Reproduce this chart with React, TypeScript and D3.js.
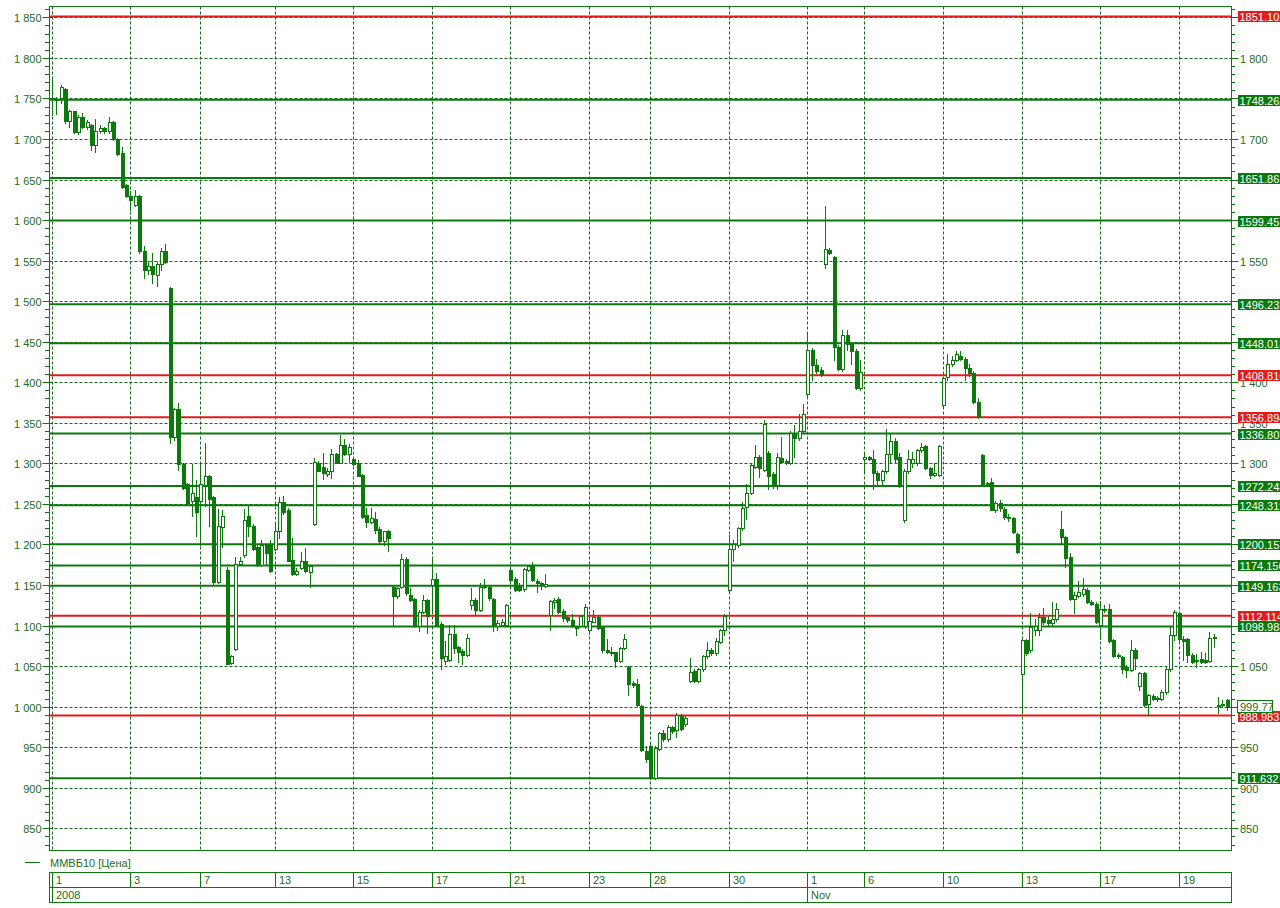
import * as d3 from 'd3';

// ohlc, one hourly candle per entry (Oct 1 - Nov 20, 2008)
const open = [
  1750, 1748, 1751, 1762, 1722, 1734, 1709, 1727, 1715, 1717,
  1693, 1710, 1714, 1710, 1721, 1700, 1683, 1643, 1630, 1618,
  1630, 1562, 1539, 1543, 1532, 1546, 1562, 1516, 1332, 1367,
  1299, 1275, 1254, 1258, 1254, 1273, 1284, 1258, 1154, 1221,
  1169, 1054, 1071, 1176, 1187, 1235, 1223, 1197, 1175, 1199,
  1199, 1195, 1216, 1252, 1243, 1181, 1163, 1171, 1180, 1166,
  1225, 1301, 1295, 1287, 1290, 1312, 1301, 1323, 1311, 1306,
  1300, 1286, 1236, 1228, 1232, 1219, 1204, 1216, 1148, 1136,
  1148, 1182, 1138, 1133, 1099, 1117, 1132, 1150, 1158, 1102,
  1056, 1058, 1089, 1073, 1069, 1064, 1125, 1132, 1119, 1147,
  1148, 1133, 1100, 1101, 1101, 1168, 1158, 1150, 1145, 1169,
  1175, 1155, 1152, 1149, 1113, 1129, 1133, 1118, 1110, 1107,
  1099, 1099, 1099, 1094, 1105, 1111, 1099, 1070, 1068, 1067,
  1056, 1072, 1049, 1029, 1028, 1001, 945, 952, 912, 948,
  967, 960, 975, 971, 989, 978, 1032, 1044, 1032, 1046,
  1062, 1070, 1066, 1080, 1094, 1144, 1194, 1199, 1220, 1246,
  1264, 1296, 1308, 1292, 1313, 1287, 1273, 1307, 1303, 1301,
  1336, 1331, 1340, 1386, 1440, 1421, 1415, 1546, 1563, 1554,
  1444, 1416, 1458, 1448, 1439, 1393, 1305, 1308, 1306, 1288,
  1279, 1290, 1312, 1328, 1308, 1230, 1290, 1300, 1300, 1316,
  1321, 1294, 1286, 1286, 1372, 1407, 1423, 1428, 1433, 1429,
  1417, 1412, 1376, 1310, 1276, 1277, 1243, 1251, 1244, 1234,
  1233, 1213, 1040, 1082, 1070, 1094, 1094, 1110, 1107, 1103,
  1108, 1219, 1209, 1185, 1133, 1137, 1139, 1144, 1129, 1127,
  1101, 1119, 1121, 1082, 1064, 1061, 1049, 1045, 1070, 1026,
  1041, 1003, 1013, 1010, 1010, 1018, 1046, 1088, 1115, 1083,
  1083, 1064, 1058, 1059, 1057, 1056, 1085, 1001, 1003, 1008,
];
const high = [
  1776, 1752, 1767, 1763, 1736, 1735, 1729, 1732, 1723, 1718,
  1725, 1717, 1715, 1727, 1722, 1701, 1690, 1645, 1636, 1637,
  1631, 1568, 1549, 1559, 1548, 1566, 1570, 1518, 1368, 1374,
  1301, 1276, 1299, 1280, 1299, 1325, 1286, 1260, 1244, 1242,
  1172, 1064, 1185, 1185, 1244, 1249, 1225, 1199, 1206, 1200,
  1206, 1225, 1259, 1260, 1245, 1208, 1171, 1191, 1196, 1174,
  1307, 1303, 1313, 1294, 1318, 1313, 1335, 1330, 1324, 1308,
  1304, 1287, 1245, 1245, 1240, 1221, 1217, 1218, 1150, 1148,
  1188, 1184, 1146, 1134, 1119, 1138, 1133, 1185, 1165, 1104,
  1081, 1101, 1101, 1075, 1071, 1090, 1146, 1134, 1152, 1158,
  1150, 1134, 1107, 1108, 1127, 1170, 1160, 1153, 1171, 1175,
  1178, 1157, 1154, 1163, 1132, 1134, 1135, 1120, 1112, 1114,
  1100, 1113, 1126, 1112, 1119, 1113, 1100, 1083, 1073, 1068,
  1074, 1090, 1050, 1032, 1034, 1002, 952, 954, 951, 969,
  971, 977, 976, 992, 991, 990, 1060, 1046, 1048, 1064,
  1080, 1072, 1085, 1096, 1114, 1212, 1206, 1222, 1252, 1275,
  1300, 1323, 1310, 1353, 1315, 1289, 1313, 1333, 1305, 1340,
  1347, 1361, 1373, 1462, 1442, 1429, 1419, 1617, 1565, 1556,
  1446, 1465, 1465, 1449, 1441, 1427, 1312, 1309, 1317, 1290,
  1292, 1342, 1337, 1331, 1313, 1293, 1316, 1314, 1318, 1325,
  1323, 1296, 1301, 1323, 1407, 1435, 1432, 1438, 1439, 1431,
  1423, 1414, 1381, 1312, 1277, 1282, 1253, 1255, 1246, 1237,
  1234, 1214, 1085, 1083, 1116, 1108, 1116, 1122, 1112, 1129,
  1128, 1241, 1210, 1190, 1141, 1155, 1159, 1146, 1131, 1129,
  1130, 1125, 1127, 1083, 1066, 1062, 1051, 1082, 1072, 1043,
  1043, 1016, 1015, 1013, 1020, 1049, 1100, 1119, 1117, 1087,
  1085, 1066, 1065, 1067, 1066, 1092, 1090, 1012, 1008, 1010,
];
const low = [
  1729, 1731, 1744, 1720, 1715, 1708, 1706, 1713, 1712, 1687,
  1684, 1707, 1707, 1708, 1699, 1680, 1640, 1628, 1612, 1617,
  1560, 1528, 1533, 1523, 1519, 1538, 1547, 1325, 1329, 1292,
  1268, 1249, 1235, 1211, 1199, 1247, 1223, 1150, 1152, 1197,
  1052, 1052, 1070, 1175, 1185, 1211, 1193, 1174, 1174, 1175,
  1166, 1193, 1208, 1238, 1179, 1162, 1162, 1170, 1166, 1147,
  1224, 1290, 1281, 1285, 1282, 1300, 1300, 1310, 1302, 1298,
  1284, 1233, 1222, 1226, 1214, 1202, 1199, 1192, 1099, 1134,
  1146, 1138, 1130, 1098, 1093, 1115, 1091, 1115, 1100, 1046,
  1053, 1056, 1066, 1055, 1052, 1062, 1121, 1113, 1118, 1146,
  1132, 1093, 1094, 1099, 1100, 1155, 1143, 1142, 1143, 1167,
  1155, 1141, 1145, 1147, 1094, 1122, 1115, 1106, 1105, 1098,
  1088, 1098, 1097, 1090, 1104, 1096, 1068, 1066, 1064, 1049,
  1055, 1071, 1014, 1024, 1001, 945, 932, 911, 911, 946,
  958, 958, 968, 962, 971, 976, 1031, 1031, 1030, 1044,
  1060, 1064, 1064, 1079, 1088, 1142, 1179, 1197, 1218, 1231,
  1262, 1294, 1283, 1290, 1268, 1270, 1269, 1300, 1299, 1299,
  1308, 1329, 1339, 1380, 1403, 1411, 1408, 1541, 1558, 1428,
  1415, 1414, 1440, 1423, 1392, 1390, 1291, 1304, 1268, 1275,
  1273, 1288, 1302, 1300, 1271, 1228, 1288, 1296, 1298, 1314,
  1293, 1282, 1284, 1285, 1371, 1403, 1420, 1426, 1427, 1403,
  1408, 1374, 1356, 1273, 1272, 1242, 1240, 1241, 1232, 1229,
  1214, 1189, 992, 1064, 1068, 1088, 1088, 1102, 1100, 1100,
  1106, 1201, 1172, 1131, 1115, 1135, 1137, 1128, 1125, 1103,
  1083, 1117, 1080, 1061, 1060, 1042, 1037, 1044, 1047, 1020,
  1001, 990, 1008, 1007, 1008, 1016, 1044, 1082, 1081, 1057,
  1055, 1054, 1049, 1054, 1054, 1055, 1074, 992, 1000, 996,
];
const close = [
  1751, 1749, 1764, 1722, 1734, 1709, 1727, 1715, 1721, 1693,
  1710, 1714, 1710, 1721, 1700, 1682, 1641, 1630, 1625, 1630,
  1562, 1539, 1543, 1533, 1546, 1562, 1548, 1332, 1367, 1299,
  1270, 1251, 1263, 1240, 1275, 1284, 1256, 1154, 1223, 1235,
  1053, 1062, 1176, 1180, 1230, 1223, 1195, 1175, 1199, 1190,
  1167, 1216, 1252, 1240, 1180, 1163, 1167, 1179, 1167, 1173,
  1302, 1291, 1288, 1290, 1312, 1301, 1323, 1311, 1320, 1299,
  1285, 1234, 1228, 1233, 1218, 1204, 1216, 1208, 1136, 1146,
  1182, 1140, 1132, 1099, 1117, 1132, 1112, 1158, 1101, 1060,
  1062, 1089, 1072, 1067, 1064, 1085, 1132, 1119, 1148, 1149,
  1134, 1099, 1103, 1104, 1125, 1156, 1144, 1144, 1170, 1173,
  1156, 1152, 1150, 1151, 1130, 1131, 1117, 1109, 1107, 1099,
  1097, 1112, 1123, 1106, 1111, 1097, 1070, 1067, 1066, 1056,
  1072, 1084, 1028, 1027, 1002, 946, 935, 912, 949, 967,
  960, 975, 970, 990, 973, 986, 1043, 1032, 1046, 1062,
  1070, 1066, 1081, 1094, 1112, 1195, 1200, 1220, 1245, 1264,
  1298, 1308, 1294, 1349, 1284, 1273, 1308, 1302, 1301, 1338,
  1331, 1340, 1361, 1440, 1421, 1414, 1409, 1564, 1560, 1444,
  1416, 1458, 1447, 1438, 1393, 1413, 1308, 1306, 1288, 1279,
  1290, 1312, 1328, 1306, 1273, 1290, 1306, 1305, 1316, 1320,
  1294, 1286, 1288, 1321, 1405, 1423, 1428, 1435, 1429, 1417,
  1411, 1376, 1357, 1275, 1274, 1243, 1251, 1245, 1234, 1233,
  1215, 1191, 1082, 1066, 1098, 1100, 1110, 1105, 1103, 1108,
  1121, 1209, 1183, 1133, 1138, 1141, 1145, 1129, 1126, 1105,
  1120, 1121, 1081, 1063, 1062, 1047, 1045, 1070, 1060, 1041,
  1002, 1014, 1010, 1011, 1018, 1047, 1088, 1117, 1083, 1081,
  1064, 1055, 1057, 1055, 1055, 1085, 1086, 1002, 1002, 999.77,
];

// first candle of each trading day shown on the time axis
const dayIndex = [0, 18, 34, 51, 69, 87, 105, 123, 137, 155, 173, 186, 204, 222, 240, 258];
const dayLabels = ['1', '3', '7', '13', '15', '17', '21', '23', '28', '30', '1', '6', '10', '13', '17', '19'];
const monthIndex = [0, 173];
const monthLabels = ['2008', 'Nov'];

// horizontal levels drawn on the chart
const levelValues = [
  1851.101, 1748.262, 1651.861, 1599.457, 1496.232, 1448.018, 1408.816, 1356.894, 1336.807,
  1272.243, 1248.319, 1200.157, 1174.156, 1149.163, 1112.114, 1098.983, 988.983, 911.632,
];
const levelKinds = ['r', 'g', 'g', 'g', 'g', 'g', 'r', 'r', 'g', 'g', 'g', 'g', 'g', 'g', 'r', 'g', 'r', 'g'];

const lastPrice = 999.77;
const seriesName = 'ММВБ10 [Цена]';

const W = 1280;
const H = 908;
const left = 49.5;
const right = 1231.5;
const top = 6.5;
const bottom = 850.5;

const GREEN = '#0c790c';
const RED = '#e31b1b';
const GRID = '#16691a';
const TEXT = '#226b22';
const FONT = '"Liberation Sans", Arial, sans-serif';

const fmt = d3.formatLocale({ decimal: '.', thousands: ' ', grouping: [3], currency: ['', ''] }).format(',d');

export default function App() {
  const n = open.length;
  const x = d3.scaleLinear().domain([0, n - 1]).range([52.3, 1227.3]);
  const y = d3.scaleLinear().domain([822, 1864]).range([851, 6]);

  const px = (i: number) => Math.floor(x(i));
  const py = (v: number) => Math.round(y(v));

  const majors = d3.range(850, 1851, 50);
  const minors = d3.range(830, 1861, 10).filter((v) => v % 50 !== 0);

  // right-hand tick labels that sit right under a level label are hidden by it
  const covered = [...levelValues, lastPrice].map((v) => y(v));
  const rightMajors = majors.filter((v) => covered.every((c) => Math.abs(c - y(v)) > 4));

  const candles = d3.range(n).map((i) => {
    const cx = px(i);
    const o = open[i];
    const c = close[i];
    const up = c >= o;
    const yt = py(Math.max(o, c));
    const yb = py(Math.min(o, c));
    const yh = py(high[i]);
    const yl = py(low[i]);
    return (
      <g key={i}>
        <line x1={cx + 0.5} x2={cx + 0.5} y1={yh} y2={yl + 1} stroke={GREEN} strokeWidth={1} />
        {up ? (
          <rect x={cx - 0.5} y={yt + 0.5} width={3} height={Math.max(yb - yt, 1)} fill="#fff" stroke={GREEN} strokeWidth={1} />
        ) : (
          <rect x={cx - 1} y={yt} width={4} height={Math.max(yb - yt + 1, 2)} fill={GREEN} />
        )}
      </g>
    );
  });

  return (
    <div style={{ position: 'absolute', left: 0, top: 0 }}>
      <svg width={W} height={H} style={{ display: 'block', background: '#fff' }} fontFamily={FONT}>
        {/* dashed grid */}
        {majors.map((v) => (
          <line key={'hg' + v} x1={left} x2={right} y1={py(v) + 0.5} y2={py(v) + 0.5} stroke={GRID} strokeDasharray="3,2" />
        ))}
        {dayIndex.map((d) => (
          <line key={'vg' + d} x1={px(d) + 0.5} x2={px(d) + 0.5} y1={top} y2={bottom} stroke={GRID} strokeDasharray="3,2" />
        ))}

        {/* levels */}
        {levelValues.map((v, i) => (
          <line key={'lv' + i} x1={left} x2={right} y1={y(v)} y2={y(v)} stroke={levelKinds[i] === 'r' ? RED : GREEN} strokeWidth={2} />
        ))}

        {candles}

        {/* frame */}
        <rect x={left} y={top} width={right - left} height={bottom - top} fill="none" stroke={GREEN} />

        {/* value axes */}
        {minors.map((v) => (
          <g key={'lm' + v}>
            <line x1={45} x2={left} y1={py(v) + 0.5} y2={py(v) + 0.5} stroke={GREEN} />
            <line x1={right} x2={1235} y1={py(v) + 0.5} y2={py(v) + 0.5} stroke={GREEN} />
          </g>
        ))}
        {majors.map((v) => (
          <g key={'la' + v}>
            <line x1={42.5} x2={left} y1={py(v) + 0.5} y2={py(v) + 0.5} stroke={GREEN} />
            <line x1={right} x2={1238.5} y1={py(v) + 0.5} y2={py(v) + 0.5} stroke={GREEN} />
            <text x={41.5} y={py(v) + 4.5} fontSize={11} fill={TEXT} textAnchor="end">{fmt(v)}</text>
          </g>
        ))}
        {rightMajors.map((v) => (
          <text key={'ra' + v} x={1240} y={py(v) + 4.5} fontSize={11} fill={TEXT}>{fmt(v)}</text>
        ))}

        {/* level labels */}
        {levelValues.map((v, i) => (
          <g key={'ll' + i}>
            <rect x={1238} y={Math.round(y(v)) - 5} width={50} height={11} fill={levelKinds[i] === 'r' ? RED : GREEN} />
            <text x={1239.5} y={Math.round(y(v)) + 4.5} fontSize={11} fill="#fff">{v.toFixed(3)}</text>
          </g>
        ))}
        <rect x={1237.5} y={Math.round(y(lastPrice)) - 6.5} width={35} height={12} fill="#fff" stroke={GREEN} />
        <text x={1240} y={Math.round(y(lastPrice)) + 4} fontSize={11} fill={TEXT}>{lastPrice.toFixed(2)}</text>

        {/* legend */}
        <line x1={25} x2={40} y1={862.5} y2={862.5} stroke={GREEN} />
        <text x={50} y={866.5} fontSize={11} fill={TEXT}>{seriesName}</text>

        {/* time axis */}
        <rect x={left} y={872.5} width={right - left} height={30} fill="none" stroke={GREEN} />
        <line x1={left} x2={right} y1={887.5} y2={887.5} stroke={GREEN} />
        {dayIndex.map((d, i) => (
          <g key={'dl' + d}>
            <line x1={px(d) + 0.5} x2={px(d) + 0.5} y1={872.5} y2={887.5} stroke={GREEN} />
            <text x={px(d) + 4} y={884} fontSize={11} fill={TEXT}>{dayLabels[i]}</text>
          </g>
        ))}
        {monthIndex.map((d, i) => (
          <g key={'ml' + d}>
            <line x1={px(d) + 0.5} x2={px(d) + 0.5} y1={887.5} y2={902.5} stroke={GREEN} />
            <text x={px(d) + 4} y={898.5} fontSize={11} fill={TEXT}>{monthLabels[i]}</text>
          </g>
        ))}
      </svg>
    </div>
  );
}
